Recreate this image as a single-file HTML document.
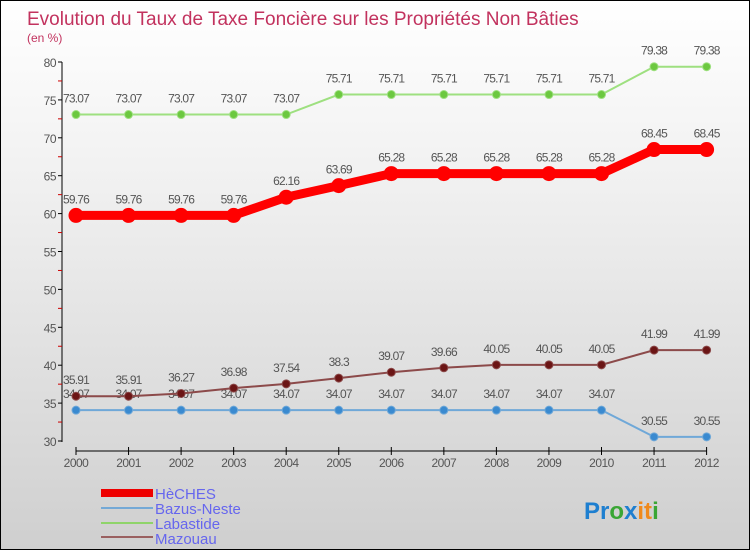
<!DOCTYPE html>
<html><head><meta charset="utf-8"><style>
body{margin:0}
#c{width:748px;height:548px;border:1px solid #000;background:linear-gradient(#fff,#f2f2f2 30%,#cfcfcf);position:relative;font-family:"Liberation Sans",sans-serif;overflow:hidden}
svg text{font-family:"Liberation Sans",sans-serif}
</style></head><body>
<div id="c">
<svg id="s" width="748" height="548">
<text x="26" y="24" font-size="19" fill="#c2325e">Evolution du Taux de Taxe Foncière sur les Propriétés Non Bâties</text>
<text x="26" y="41" font-size="12" fill="#c2325e">(en %)</text>
<g id="axes"></g><g id="series"></g>
<g>
<rect x="100" y="488" width="52" height="8" fill="#e00"/>
<text x="154" y="498" font-size="15" fill="#6666ee">HèCHES</text>
<rect x="100" y="506" width="52" height="2" fill="#74a9d6"/>
<text x="154" y="513" font-size="15" fill="#6666ee">Bazus-Neste</text>
<rect x="100" y="521" width="52" height="2" fill="#8fd46a"/>
<text x="154" y="528" font-size="15" fill="#6666ee">Labastide</text>
<rect x="100" y="535" width="52" height="2" fill="#9a6060"/>
<text x="154" y="543" font-size="15" fill="#6666ee">Mazouau</text>
</g>
<text x="583" y="518" font-size="24" font-weight="bold"><tspan fill="#1e7fd0">Pr</tspan><tspan fill="#3aa635">o</tspan><tspan fill="#1e7fd0">x</tspan><tspan fill="#f08a1c">it</tspan><tspan fill="#3aa635">i</tspan></text>
</svg></div>
<script>
const years=[2000,2001,2002,2003,2004,2005,2006,2007,2008,2009,2010,2011,2012];
const yTicks=[30,35,40,45,50,55,60,65,70,75,80];
const heches=[59.76,59.76,59.76,59.76,62.16,63.69,65.28,65.28,65.28,65.28,65.28,68.45,68.45];
const bazus=[34.07,34.07,34.07,34.07,34.07,34.07,34.07,34.07,34.07,34.07,34.07,30.55,30.55];
const labastide=[73.07,73.07,73.07,73.07,73.07,75.71,75.71,75.71,75.71,75.71,75.71,79.38,79.38];
const mazouau=[35.91,35.91,36.27,36.98,37.54,38.3,39.07,39.66,40.05,40.05,40.05,41.99,41.99];
const NS='http://www.w3.org/2000/svg';
const X=i=>75+i*52.55, Y=v=>440-(v-30)*7.58;
function mk(t,a,p){const e=document.createElementNS(NS,t);for(const k in a)e.setAttribute(k,a[k]);p.appendChild(e);return e;}
const ax=document.getElementById('axes');
let l=mk('line',{x1:61,y1:61,x2:61,y2:441,stroke:'#000'},ax);


l=mk('line',{x1:75,y1:450,x2:706,y2:450,stroke:'#000'},ax);


yTicks.forEach(v=>{
 mk('line',{x1:57,y1:Y(v),x2:61,y2:Y(v),stroke:'#000'},ax);
 if(v<80)mk('line',{x1:57,y1:Y(v+2.5),x2:61,y2:Y(v+2.5),stroke:'#c00'},ax);
 const t=mk('text',{x:55,y:Y(v)+5,'font-size':12,fill:'#555','text-anchor':'end','letter-spacing':'-0.5'},ax);
 t.textContent=v;
 
 
});
years.forEach((y,i)=>{
 mk('line',{x1:X(i),y1:446,x2:X(i),y2:454,stroke:'#000'},ax);
 const t=mk('text',{x:X(i),y:466,'font-size':12,fill:'#555','text-anchor':'middle','letter-spacing':'-0.5'},ax);
 t.textContent=y;
 
 
});
const sg=document.getElementById('series');
function draw(name,vals,color,w,r,dot){
 const g=mk('g',{},sg);
 
 
 const p=mk('polyline',{points:vals.map((v,i)=>X(i)+','+Y(v)).join(' '),fill:'none',stroke:color,'stroke-width':w},g);
 
 
 vals.forEach((v,i)=>{
  const c=mk('circle',{cx:X(i),cy:Y(v),r:r,fill:dot,stroke:color,'stroke-width':1},g);
  
  
  const t=mk('text',{x:X(i),y:Y(v)-12,'font-size':12,fill:'#555','text-anchor':'middle','letter-spacing':'-0.8'},g);
  t.textContent=v;
  
  
 });
}
draw('bazus',bazus,'#6fa8d8',2,4,'#3a8ad0');
draw('mazouau',mazouau,'#8c4a4a',2,4,'#6b1515');
draw('labastide',labastide,'#9ee080',2,4,'#6cc840');
draw('heches',heches,'#f00',9,7,'#f00');
</script>
</body></html>
